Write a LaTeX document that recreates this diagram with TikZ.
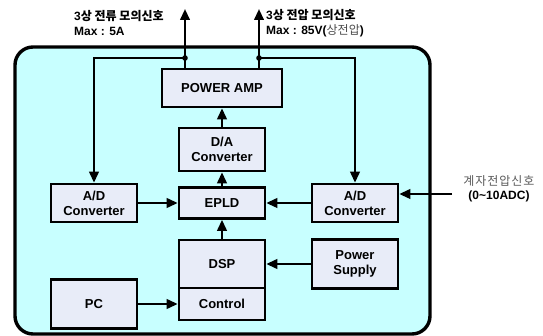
\documentclass[tikz,border=0pt]{standalone}
\usepackage{fontspec}
\setmainfont{Liberation Sans}
\newfontfamily\kr{Noto Sans CJK KR}
\usepackage{tikz}
\usetikzlibrary{%
	arrows.meta,%
	calc%
}
\definecolor{panelcyan}{RGB}{200,255,255}
\definecolor{blockfill}{RGB}{232,236,248}

\begin{document}
\begin{tikzpicture}[x=1pt,y=-1pt,
		block/.style={draw=black,line width=2.6pt,fill=blockfill,align=center,inner sep=0pt,
			minimum width=86pt,font=\fontsize{13}{15}\selectfont\bfseries},
		sig/.style={line width=2.3pt,-{Triangle[length=11pt,width=9.5pt]}},
		lbl/.style={inner sep=0pt,font=\fontsize{12}{14.5}\selectfont\bfseries}]
		\useasboundingbox (0,0) rectangle (543,336);
		
		% Frame
		\draw[line width=3.4pt,fill=panelcyan,rounded corners=18pt] (15,47) rectangle (430,334);
		
		% Blocks
		\node[block,minimum width=120pt,minimum height=38pt] (pamp) at (222,88) {POWER AMP};
		\node[block,minimum height=43pt] (da) at (222,149.5) {D/A\\Converter};
		\node[block,minimum height=31pt] (epld) at (222,203) {EPLD};
		\node[block,minimum height=38pt] (adl) at (94,203) {A/D\\Converter};
		\node[block,minimum height=38pt] (adr) at (355,203) {A/D\\Converter};
		\node[block,minimum height=48pt] (dsp) at (222,264) {DSP};
		\node[block,minimum height=32pt] (ctrl) at (222,304) {Control};
		\node[block,minimum height=49pt] (pc) at (94,304) {PC};
		\node[block,minimum height=49pt] (ps) at (355,264) {Power\\Supply};
		
		% Junctions and free ends
		\coordinate (jl) at (185,58);
		\coordinate (jr) at (259,58);
		\coordinate (tl) at (185,9);
		\coordinate (tr) at (259,9);
		\coordinate (fin) at (452,194);
		
		% Signals
		\draw[sig] (pamp.north -| jl) -- (tl);
		\draw[sig] (pamp.north -| jr) -- (tr);
		\draw[sig] (jl) -| (adl);
		\draw[sig] (jr) -| (adr);
		\draw[sig] (da) -- (pamp);
		\draw[sig] (epld) -- (da);
		\draw[sig] (dsp) -- (epld);
		\draw[sig] (adl) -- (epld);
		\draw[sig] (adr) -- (epld);
		\draw[sig] (ps) -- (dsp);
		\draw[sig] (pc) -- (ctrl);
		\draw[sig] (fin) -- (adr.east |- fin);
		
		% Junction dots
		\foreach \j in {jl,jr}
		\fill (\j) circle (2.8pt);
		
		% Labels
		\node[lbl,anchor=west,align=left] (curlbl) at (74,23) {3{\kr 상 전류 모의신호}\\Max : 5A};
		\node[lbl,anchor=west,align=left] (vollbl) at (266,23) {3{\kr 상 전압 모의신호}\\Max : 85V({\kr\mdseries\color{black!70}상전압})};
		\node[lbl,align=center] (fldlbl) at (499,189) {{\kr\mdseries\color{black!65}\addfontfeature{LetterSpace=8}계자전압신호}\\(0\textasciitilde10ADC)};
	\end{tikzpicture}
\end{document}
